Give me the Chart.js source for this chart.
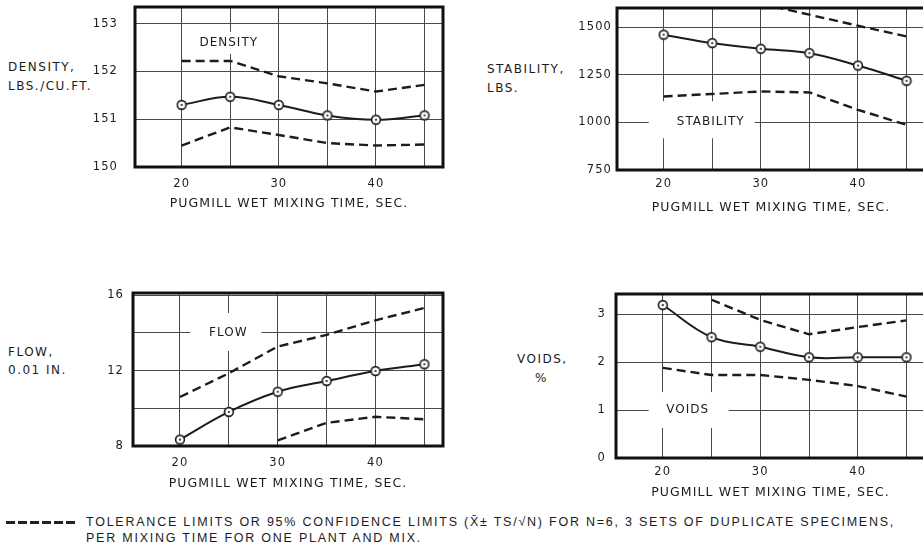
<!DOCTYPE html>
<html lang="en">
<head>
<meta charset="UTF-8">
<title>Pugmill wet mixing time</title>
<script src="https://cdn.jsdelivr.net/npm/chart.js"></script>
<style>
  html, body { margin: 0; padding: 0; width: 923px; height: 552px; overflow: hidden; background: #fff; }
  body { position: relative; font-family: "DejaVu Sans", sans-serif; color: #1c1c1c; }
  canvas { position: absolute; }
  .ytitle { position: absolute; font-size: 12px; letter-spacing: 1.5px; line-height: 19px; white-space: nowrap; }
  .foot { position: absolute; font-family: "Liberation Sans", sans-serif;
          font-size: 12.5px; white-space: nowrap; line-height: 16px; }
  .dashes { position: absolute; left: 6px; top: 521px; width: 72px; height: 3px;
            background: repeating-linear-gradient(to right, #222 0 9px, transparent 9px 12px); }
</style>
</head>
<body>
<div class="ytitle" style="left:8px; top:58px;">DENSITY,<br>LBS./CU.FT.</div>
<div class="ytitle" style="left:487px; top:60px;">STABILITY,<br>LBS.</div>
<div class="ytitle" style="left:8px; top:343px; line-height:18px;">FLOW,<br>0.01 IN.</div>
<div class="ytitle" style="left:517px; top:350px;">VOIDS,<br><span style="padding-left:18px">%</span></div>
<div class="dashes"></div>
<div class="foot" id="foot1" style="left:86px; top:514px;">TOLERANCE LIMITS OR 95% CONFIDENCE LIMITS (X&#772;&#177; TS/&#8730;N) FOR N=6, 3 SETS OF DUPLICATE SPECIMENS,</div>
<div class="foot" id="foot2" style="left:86px; top:530px;">PER MIXING TIME FOR ONE PLANT AND MIX.</div>
<script>
// mixing times (sec) and axis ticks
const mixTimes = [20, 25, 30, 35, 40, 45];
const xGridValues = [20, 25, 30, 35, 40, 45];
const xLabelled = [20, 30, 40];

// density, lbs/cu.ft
const densityMean  = [151.3, 151.47, 151.3, 151.08, 150.99, 151.08];
const densityUpper = [152.22, 152.22, 151.9, 151.75, 151.58, 151.72];
const densityLower = [150.45, 150.83, 150.67, 150.5, 150.45, 150.47];
const densityTicks = [150, 151, 152, 153];

// stability, lbs
const stabilityMean  = [1460, 1416, 1386, 1363, 1298, 1218];
const stabilityUpper = [null, null, 1622, 1565, 1507, 1451];
const stabilityLower = [1136, 1149, 1162, 1157, 1066, 987];
const stabilityTicks = [750, 1000, 1250, 1500];

// flow, 0.01 in
const flowMean  = [8.34, 9.81, 10.88, 11.45, 11.98, 12.34];
const flowUpper = [10.6, 11.86, 13.28, 13.9, 14.67, 15.33];
const flowLower = [null, null, 8.3, 9.23, 9.55, 9.42];
const flowTicks = [8, 10, 12, 14, 16];
const flowLabelled = [8, 12, 16];

// voids, %
const voidsMean  = [3.19, 2.52, 2.32, 2.1, 2.1, 2.1];
const voidsUpper = [null, 3.3, 2.88, 2.58, 2.73, 2.87];
const voidsLower = [1.88, 1.73, 1.73, 1.63, 1.5, 1.28];
const voidsTicks = [0, 1, 2, 3];

const INK = '#1c1c1c';
const FONT = '"DejaVu Sans", sans-serif';

// circle with a dot in the middle, used as point marker
const ringDot = (function () {
    const c = document.createElement('canvas');
    c.width = c.height = 12;
    const g = c.getContext('2d');
    g.fillStyle = '#fff';
    g.strokeStyle = INK;
    g.lineWidth = 1.6;
    g.beginPath(); g.arc(6, 6, 4.4, 0, Math.PI * 2); g.fill(); g.stroke();
    g.fillStyle = INK;
    g.beginPath(); g.arc(6, 6, 1.1, 0, Math.PI * 2); g.fill();
    return c;
})();

// thick frame around the plot and the boxed label inside it
const framePlugin = {
    id: 'frame',
    beforeDraw(chart) {
        chart.ctx.letterSpacing = '1.1px';
    },
    beforeDatasetsDraw(chart, args, opts) {
        const lab = opts.label;
        if (!lab) return;
        const ctx = chart.ctx;
        const x = chart.scales.x.getPixelForValue(lab.x);
        const y = chart.scales.y.getPixelForValue(lab.y);
        const [l, r, t, b] = lab.box;
        ctx.save();
        ctx.fillStyle = '#fff';
        ctx.fillRect(x - l, y - t, l + r, t + b);
        ctx.fillStyle = INK;
        ctx.font = '12px ' + FONT;
        ctx.letterSpacing = '1px';
        ctx.textAlign = 'center';
        ctx.textBaseline = 'middle';
        ctx.fillText(lab.text, x, y);
        ctx.restore();
    },
    afterDatasetsDraw(chart) {
        const {ctx, chartArea: a} = chart;
        ctx.save();
        ctx.strokeStyle = '#111';
        ctx.lineWidth = 3;
        ctx.strokeRect(a.left, a.top, a.right - a.left, a.bottom - a.top);
        ctx.restore();
    }
};

function dashed(data) {
    return {
        data: data,
        borderColor: INK,
        borderWidth: 2.4,
        borderDash: [9, 5],
        pointRadius: 0,
        tension: 0,
        fill: false
    };
}

function buildPanel(p) {
    const Wy = 70, Hx = 48, padTop = 28, padRight = 8;
    const canvas = document.createElement('canvas');
    canvas.width = p.plot.R - p.plot.L + Wy + padRight;
    canvas.height = p.plot.B - p.plot.T + padTop + Hx;
    canvas.style.left = (p.plot.L - Wy) + 'px';
    canvas.style.top = (p.plot.T - padTop) + 'px';
    document.body.appendChild(canvas);

    const yLabelled = p.yLabelled || p.yTicks;

    new Chart(canvas.getContext('2d'), {
        type: 'line',
        data: {
            labels: mixTimes,
            datasets: [
                dashed(p.upper),
                dashed(p.lower),
                {
                    data: p.mean,
                    borderColor: INK,
                    borderWidth: 2,
                    tension: 0.4,
                    pointStyle: ringDot,
                    pointRadius: 5,
                    fill: false
                }
            ]
        },
        options: {
            responsive: false,
            animation: false,
            devicePixelRatio: 1,
            layout: { padding: { top: padTop, right: padRight, left: 0, bottom: 0 } },
            plugins: {
                legend: { display: false },
                tooltip: { enabled: false },
                frame: { label: p.label }
            },
            scales: {
                x: {
                    type: 'linear',
                    min: 15.2,
                    max: 46.9,
                    afterFit: s => { s.height = Hx; },
                    afterBuildTicks: s => { s.ticks = xGridValues.map(v => ({ value: v })); },
                    grid: { color: '#4a4a4a', lineWidth: 1, drawTicks: false },
                    border: { display: false },
                    ticks: {
                        padding: p.xPad,
                        autoSkip: false,
                        maxRotation: 0,
                        color: INK,
                        font: { family: FONT, size: 11.5 },
                        callback: v => xLabelled.includes(v) ? String(v) : ''
                    },
                    title: {
                        display: true,
                        text: 'PUGMILL WET MIXING TIME, SEC.',
                        color: INK,
                        font: { family: FONT, size: 12.5 },
                        padding: { top: 0, bottom: p.titlePad }
                    }
                },
                y: {
                    min: p.yMin,
                    max: p.yMax,
                    afterFit: s => { s.width = Wy; },
                    afterBuildTicks: s => { s.ticks = p.yTicks.map(v => ({ value: v })); },
                    grid: { color: '#4a4a4a', lineWidth: 1, drawTicks: false },
                    border: { display: false },
                    ticks: {
                        padding: p.yPad,
                        color: INK,
                        font: { family: FONT, size: 11.5 },
                        callback: v => yLabelled.includes(v) ? String(v) : ''
                    }
                }
            }
        },
        plugins: [framePlugin]
    });
}

buildPanel({
    plot: { L: 135, T: 7, R: 443, B: 167 },
    yMin: 150, yMax: 153.35, yTicks: densityTicks,
    mean: densityMean, upper: densityUpper, lower: densityLower,
    yPad: 17, xPad: 10, titlePad: 3.5,
    label: { text: 'DENSITY', x: 24.85, y: 152.6, box: [39, 39, 11, 11] }
});

buildPanel({
    plot: { L: 617, T: 8, R: 925, B: 170 },
    yMin: 750, yMax: 1600, yTicks: stabilityTicks,
    mean: stabilityMean, upper: stabilityUpper, lower: stabilityLower,
    yPad: 5, xPad: 7, titlePad: 2.5,
    label: { text: 'STABILITY', x: 24.85, y: 1000, box: [62, 44, 21, 16] }
});

buildPanel({
    plot: { L: 133, T: 293, R: 443, B: 446 },
    yMin: 8, yMax: 16.12, yTicks: flowTicks, yLabelled: flowLabelled,
    mean: flowMean, upper: flowUpper, lower: flowLower,
    yPad: 9, xPad: 10, titlePad: 2.5,
    label: { text: 'FLOW', x: 24.95, y: 14, box: [38, 33, 20, 18] }
});

buildPanel({
    plot: { L: 616, T: 294, R: 925, B: 458 },
    yMin: 0, yMax: 3.42, yTicks: voidsTicks,
    mean: voidsMean, upper: voidsUpper, lower: voidsLower,
    yPad: 10, xPad: 7, titlePad: 5.5,
    label: { text: 'VOIDS', x: 22.55, y: 1, box: [39, 41, 18, 18] }
});

// stretch the footer lettering to the width it has in the figure
(function () {
    const f1 = document.getElementById('foot1');
    const f2 = document.getElementById('foot2');
    const target = 811;
    const n = f1.textContent.length;
    const ls = (target - f1.offsetWidth) / n;
    f1.style.letterSpacing = ls + 'px';
    f2.style.letterSpacing = ls + 'px';
})();
</script>
</body>
</html>
